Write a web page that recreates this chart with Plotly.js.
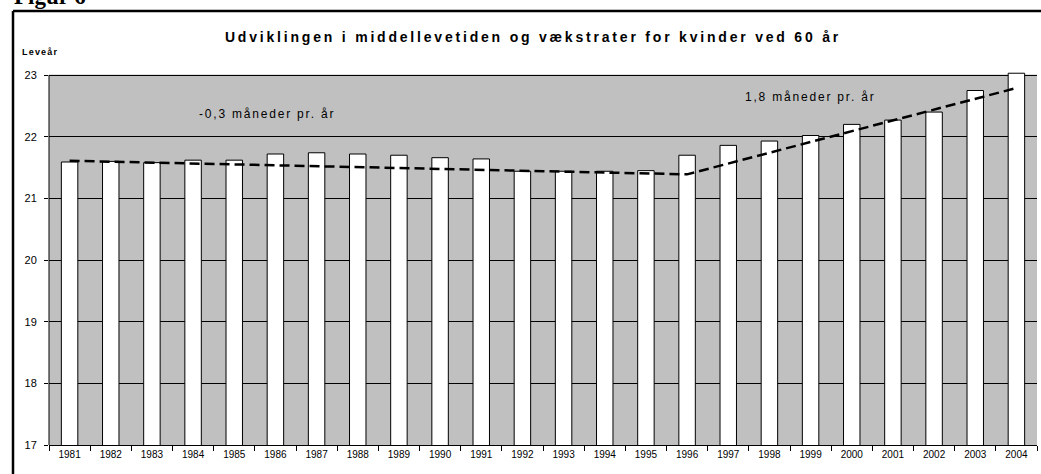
<!DOCTYPE html>
<html>
<head>
<meta charset="utf-8">
<script src="https://cdn.plot.ly/plotly-3.0.1.min.js"></script>
<style>
  html, body { margin: 0; padding: 0; background: #ffffff; }
  #chart { width: 1041px; height: 474px; }
</style>
</head>
<body>
<div id="chart"></div>
<script>
// Data
var years = ['1981','1982','1983','1984','1985','1986','1987','1988','1989','1990','1991','1992',
             '1993','1994','1995','1996','1997','1998','1999','2000','2001','2002','2003','2004'];
var lifeExpectancy = [21.59, 21.60, 21.58, 21.62, 21.62, 21.72, 21.74, 21.72, 21.70, 21.66, 21.64, 21.44,
                      21.44, 21.44, 21.45, 21.70, 21.86, 21.93, 22.02, 22.20, 22.27, 22.40, 22.75, 23.03];
var trendYears = ['1981', '1996', '2004'];
var trendValues = [21.61, 21.39, 22.79];
var yTicks = [17, 18, 19, 20, 21, 22, 23];
var yMin = 17, yMax = 23;
var yHeadroom = 23.05; // a little room so the tallest bar can rise above the top gridline

function spaced(txt, px) {
  return '<span style="letter-spacing:' + px + 'px">' + txt + '</span>';
}

var traces = [
  {
    type: 'bar',
    x: years,
    y: lifeExpectancy,
    width: 0.4,
    marker: { color: '#ffffff', line: { color: '#000000', width: 1 } },
    hoverinfo: 'skip'
  },
  {
    type: 'scatter',
    mode: 'lines',
    x: trendYears,
    y: trendValues,
    line: { color: '#000000', width: 2.5, dash: '10px,5px' },
    hoverinfo: 'skip'
  }
];

var plotH = 474 - 72 - 29;
var borderTop = 1 + (72 - 11) / plotH;
var borderLeft = -36 / 988;

var layout = {
  width: 1041,
  height: 474,
  margin: { l: 49, r: 4, t: 72, b: 29, pad: 0 },
  paper_bgcolor: '#ffffff',
  plot_bgcolor: '#c0c0c0',
  showlegend: false,
  font: { family: 'Liberation Sans, Arial, sans-serif', color: '#000000', size: 11 },
  title: {
    text: '<b>' + spaced('Udviklingen i middellevetiden og vækstrater for kvinder ved 60 år', 2.8) + '</b>',
    font: { family: 'Liberation Sans, Arial, sans-serif', size: 14, color: '#000000' },
    xref: 'container',
    x: 533 / 1041, xanchor: 'center',
    y: 1 - 37 / 474, yanchor: 'middle'
  },
  xaxis: {
    type: 'category',
    categoryorder: 'array',
    categoryarray: years,
    showgrid: false,
    zeroline: false,
    showline: true,
    linecolor: '#000000',
    linewidth: 1,
    ticks: 'outside',
    tickson: 'boundaries',
    ticklen: 5,
    tickcolor: '#000000',
    tickfont: { size: 10 },
    fixedrange: true
  },
  yaxis: {
    range: [yMin, yHeadroom],
    tickvals: yTicks,
    ticktext: yTicks.map(String),
    showgrid: true,
    gridcolor: '#000000',
    gridwidth: 1,
    zeroline: false,
    showline: false,
    ticks: 'outside',
    ticklen: 4,
    tickcolor: '#000000',
    ticklabelstandoff: 5,
    tickfont: { size: 11 },
    fixedrange: true
  },
  annotations: [
    {
      text: '<b>Figur 6</b>',
      xref: 'paper', yref: 'paper',
      x: -37 / 988, xanchor: 'left',
      y: 1 + (72 - 11) / plotH, yanchor: 'bottom',
      showarrow: false,
      font: { family: 'Liberation Serif, Times New Roman, serif', size: 23, color: '#000000' }
    },
    {
      text: '<b>' + spaced('Leveår', 1.2) + '</b>',
      xref: 'paper', yref: 'paper',
      x: -29 / 988, xanchor: 'left',
      y: 1 + (72 - 52) / plotH, yanchor: 'middle',
      showarrow: false,
      font: { size: 9, color: '#000000' }
    },
    {
      text: spaced('-0,3 måneder pr. år', 1.8),
      xref: 'paper', yref: 'paper',
      x: (267 - 49) / 988, xanchor: 'center',
      y: (445 - 114) / plotH, yanchor: 'middle',
      showarrow: false,
      font: { size: 12, color: '#000000' }
    },
    {
      text: spaced('1,8 måneder pr. år', 1.8),
      xref: 'paper', yref: 'paper',
      x: (810 - 49) / 988, xanchor: 'center',
      y: (445 - 97) / plotH, yanchor: 'middle',
      showarrow: false,
      font: { size: 12, color: '#000000' }
    }
  ],
  shapes: [
    {
      // white strip above the top gridline (chart area ends at 23)
      type: 'rect',
      xref: 'paper', yref: 'y',
      x0: 0, x1: 1,
      y0: yMax + 0.009, y1: yHeadroom,
      fillcolor: '#ffffff',
      line: { width: 0 },
      layer: 'below'
    },
    {
      // y axis line from 17 to 23
      type: 'line',
      xref: 'paper', yref: 'y',
      x0: 0, x1: 0,
      y0: yMin, y1: yMax,
      line: { color: '#000000', width: 1 },
      layer: 'above'
    },
    {
      type: 'line',
      xref: 'paper', yref: 'paper',
      x0: borderLeft, x1: 1.01,
      y0: borderTop, y1: borderTop,
      line: { color: '#000000', width: 2.5 },
      layer: 'above'
    },
    {
      type: 'line',
      xref: 'paper', yref: 'paper',
      x0: borderLeft, x1: borderLeft,
      y0: borderTop, y1: -0.1,
      line: { color: '#000000', width: 2.5 },
      layer: 'above'
    }
  ]
};

Plotly.newPlot('chart', traces, layout, { displayModeBar: false, staticPlot: true });
</script>
</body>
</html>
